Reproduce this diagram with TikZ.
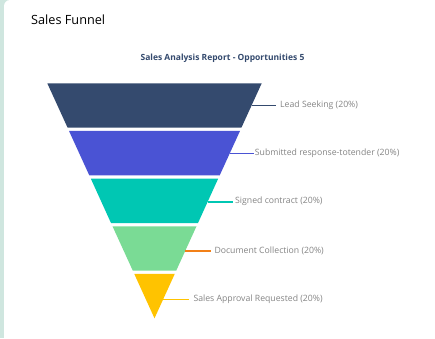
\documentclass[tikz,border=0pt]{standalone}
\usepackage{fontspec}
\setmainfont{Open Sans}
\usepackage{xcolor}
\usepackage{tikz}
\usetikzlibrary{positioning}

\definecolor{stripgreen}{HTML}{CFE6DF}
\definecolor{leadnavy}{HTML}{344A6E}
\definecolor{submitblue}{HTML}{4A53D4}
\definecolor{signedteal}{HTML}{00C7B3}
\definecolor{docgreen}{HTML}{7ADB95}
\definecolor{approvalyellow}{HTML}{FFC300}
\definecolor{docorange}{HTML}{F28018}
\definecolor{labelgray}{HTML}{858585}

\begin{document}
\begin{tikzpicture} [x = 1pt, y = 1pt,
			stage label/.style = {labelgray, font=\fontsize{8.7}{10}\selectfont, inner sep = 0pt, anchor = west},
			leader/.style = {line width = 1.6pt}]
			% Card and left strip
			\useasboundingbox (0,0) rectangle (435,338);
			\clip (0,0) rectangle (435,338);
			\fill [white] (0,0) rectangle (435,338);
			\fill [stripgreen] (0,0) rectangle (12,338);
			\fill [white, rounded corners = 6pt] (4,-10) rectangle (445,338);

			% Titles
			\node (title) [anchor = west, inner sep = 0pt, font=\fontsize{12.7}{14}\selectfont] at (31,318) {Sales Funnel};
			\node (subtitle) [leadnavy, inner sep = 0pt, font=\bfseries\fontsize{8.5}{10}\selectfont] at (222.5,280) {Sales Analysis Report - Opportunities 5};

			% Funnel stages
			\fill [leadnavy] (47.3,254.7) -- (261.7,254.7) -- (241.4,210.3) -- (67.6,210.3) -- cycle;
			\fill [submitblue] (69.0,207.05) -- (240.0,207.05) -- (219.7,162.65) -- (89.3,162.65) -- cycle;
			\fill [signedteal] (90.8,159.4) -- (218.2,159.4) -- (198.0,115.0) -- (111.0,115.0) -- cycle;
			\fill [docgreen] (112.5,111.75) -- (196.5,111.75) -- (176.2,67.35) -- (132.8,67.35) -- cycle;
			\fill [approvalyellow] (134.25,64.1) -- (174.75,64.1) -- (154.5,19.7) -- cycle;

			% Points on the right edge of each stage
			\coordinate (e1) at (251.6,232.5);
			\coordinate (e2) at (229.8,184.7);
			\coordinate (e3) at (207.7,136.3);
			\coordinate (e4) at (185.3,87.3);
			\coordinate (e5) at (163.2,38.7);

			% Stage labels
			\node (l1) [stage label] at (280,232.5) {Lead Seeking (20\%)};
			\node (l2) [stage label] at (254.7,184.7) {Submitted response-totender (20\%)};
			\node (l3) [stage label] at (235,136.3) {Signed contract (20\%)};
			\node (l4) [stage label] at (214.3,87.3) {Document Collection (20\%)};
			\node (l5) [stage label] at (193.3,38.7) {Sales Approval Requested (20\%)};

			% Leader lines
			\draw [leader, leadnavy, shorten > = 4pt] (e1) -- (l1.west);
			\draw [leader, submitblue, shorten > = 0.7pt] (e2) -- (l2.west);
			\draw [leader, signedteal, shorten > = 2.3pt] (e3) -- (l3.west);
			\draw [leader, docorange, shorten > = 3.6pt] (e4) -- (l4.west);
			\draw [leader, approvalyellow, shorten > = 4.3pt] (e5) -- (l5.west);
		\end{tikzpicture}
\end{document}
